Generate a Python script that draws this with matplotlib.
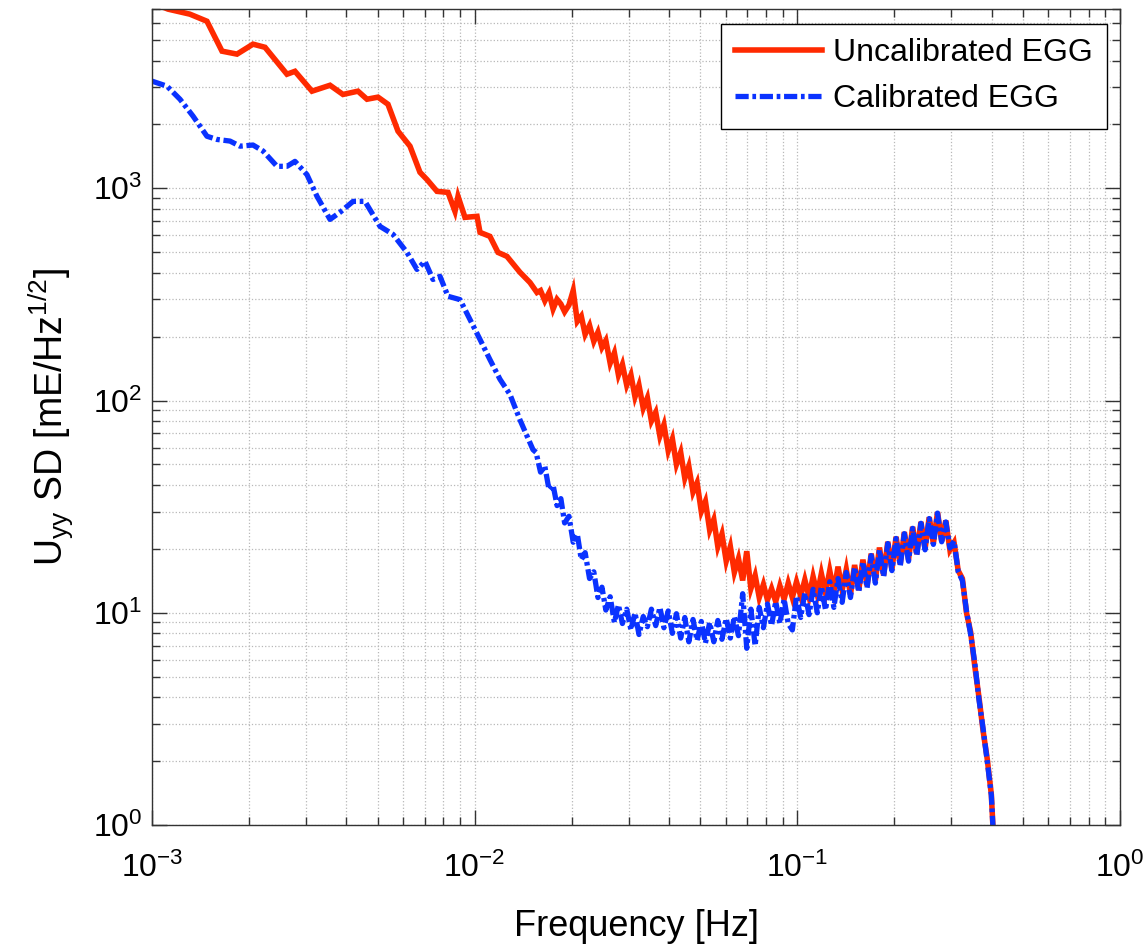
import matplotlib
matplotlib.use("Agg")
import matplotlib.pyplot as plt
from matplotlib.ticker import LogLocator, NullFormatter

# Uncalibrated EGG, smooth low-frequency part then the noisy tail
uncal_freq = [1.00e-3, 1.121e-3, 1.31e-3, 1.48e-3, 1.648e-3, 1.834e-3, 2.056e-3, 2.24e-3,
              2.62e-3, 2.774e-3, 3.132e-3, 3.562e-3, 3.907e-3, 4.348e-3, 4.638e-3, 5.016e-3,
              5.386e-3, 5.786e-3, 6.304e-3, 6.768e-3, 7.115e-3, 7.642e-3, 8.267e-3, 8.69e-3,
              8.879e-3, 9.331e-3, 1.017e-2, 1.039e-2, 1.115e-2, 1.181e-2, 1.259e-2, 1.382e-2,
              1.484e-2, 1.56e-2,
              0.0160, 0.0165, 0.0170, 0.0175, 0.0180, 0.0185, 0.0190, 0.0196, 0.0202, 0.0208,
              0.0214, 0.0220, 0.0227, 0.0234, 0.0241, 0.0248, 0.0255, 0.0263, 0.0271, 0.0279,
              0.0287, 0.0296, 0.0305, 0.0314, 0.0323, 0.0333, 0.0343, 0.0353, 0.0364, 0.0375,
              0.0386, 0.0398, 0.0410, 0.0422, 0.0435, 0.0448, 0.0461, 0.0475, 0.0489, 0.0504,
              0.0519, 0.0535, 0.0551, 0.0567, 0.0584, 0.0602, 0.0620, 0.0638, 0.0657, 0.0677,
              0.0697, 0.0718, 0.0740, 0.0762, 0.0785, 0.0808, 0.0832, 0.0857, 0.0883, 0.0910,
              0.0937, 0.0965, 0.0994, 0.1024, 0.1055, 0.1087, 0.1119, 0.1153, 0.1187, 0.1223,
              0.1260, 0.1298, 0.1337, 0.1377, 0.1418, 0.1461, 0.1505, 0.1550, 0.1597, 0.1645,
              0.1694, 0.1745, 0.1797, 0.1851, 0.1907, 0.1964, 0.2023, 0.2084, 0.2146, 0.2211,
              0.2277, 0.2345, 0.2416, 0.2488, 0.2563, 0.2640, 0.2719, 0.2801, 0.2885, 0.2971,
              0.3060, 0.3152, 0.3247, 0.3344, 0.3445, 0.3548, 0.3655, 0.3764, 0.3877, 0.3993,
              0.4050]
uncal_sd = [7500, 6990, 6620, 6130, 4430, 4290, 4780, 4620,
            3450, 3560, 2870, 3060, 2770, 2870, 2630, 2690,
            2490, 1860, 1580, 1190, 1100, 968, 957, 779,
            917, 730, 738, 620, 594, 499, 478, 402,
            360, 323,
            330, 295, 322, 270, 300, 285, 262, 282, 330, 236,
            250, 205, 226, 190, 210, 178, 192, 150, 168, 132,
            148, 118, 132, 104, 118, 92, 103, 80, 88, 68,
            77, 58, 66, 50, 57, 43, 49, 37, 41, 30,
            33.5, 24.5, 27.5, 20.5, 23.5, 17.5, 20.5, 15.5, 18.0, 14.2,
            19.5, 13.0, 15.0, 11.8, 13.6, 11.5, 13.0, 11.3, 13.4, 11.6,
            13.8, 11.8, 14.0, 12.0, 14.3, 11.9, 14.8, 12.2, 15.3, 12.4,
            15.8, 12.6, 16.5, 12.8, 16.0, 12.2, 16.8, 12.8, 17.8, 13.4,
            19.0, 14.2, 20.3, 15.0, 21.6, 16.0, 22.8, 16.9, 24.0, 17.8,
            25.4, 18.9, 26.8, 20.0, 28.2, 21.2, 29.8, 21.8, 27.2, 19.8,
            21.4, 15.8, 14.5, 10.0, 8.1, 5.6, 4.0, 2.78, 2.05, 1.39,
            0.9]

# Calibrated EGG
cal_freq = [1.00e-3, 1.113e-3, 1.221e-3, 1.340e-3, 1.480e-3, 1.590e-3, 1.745e-3, 1.874e-3,
            2.056e-3, 2.208e-3, 2.440e-3, 2.620e-3, 2.774e-3, 3.022e-3, 3.246e-3, 3.562e-3,
            3.824e-3, 4.198e-3, 4.571e-3, 5.088e-3, 5.583e-3, 6.169e-3, 6.624e-3, 7.015e-3,
            7.427e-3, 7.808e-3, 8.267e-3, 9.006e-3, 9.67e-3, 1.039e-2, 1.115e-2, 1.198e-2,
            1.286e-2, 1.382e-2, 1.516e-2,
            0.0155, 0.0160, 0.0165, 0.0170, 0.0175, 0.0180, 0.0185, 0.0190, 0.0196, 0.0202,
            0.0208, 0.0214, 0.0220, 0.0227, 0.0234, 0.0241, 0.0248, 0.0255, 0.0263, 0.0271,
            0.0279, 0.0287, 0.0296, 0.0305, 0.0314, 0.0323, 0.0333, 0.0343, 0.0353, 0.0364,
            0.0375, 0.0386, 0.0398, 0.0410, 0.0422, 0.0435, 0.0448, 0.0461, 0.0475, 0.0489,
            0.0504, 0.0519, 0.0535, 0.0551, 0.0567, 0.0584, 0.0602, 0.0620, 0.0638, 0.0657,
            0.0677, 0.0697, 0.0718, 0.0740, 0.0762, 0.0785, 0.0808, 0.0832, 0.0857, 0.0883,
            0.0910, 0.0937, 0.0965, 0.0994, 0.1024, 0.1055, 0.1087, 0.1119, 0.1153, 0.1187,
            0.1223, 0.1260, 0.1298, 0.1337, 0.1377, 0.1418, 0.1461, 0.1505, 0.1550, 0.1597,
            0.1645, 0.1694, 0.1745, 0.1797, 0.1851, 0.1907, 0.1964, 0.2023, 0.2084, 0.2146,
            0.2211, 0.2277, 0.2345, 0.2416, 0.2488, 0.2563, 0.2640, 0.2719, 0.2801, 0.2885,
            0.2971, 0.3060, 0.3152, 0.3247, 0.3344, 0.3445, 0.3548, 0.3655, 0.3764, 0.3877,
            0.3993, 0.4050]
cal_sd = [3200, 3030, 2630, 2190, 1760, 1700, 1670, 1580,
          1600, 1500, 1270, 1270, 1340, 1160, 917, 714,
          771, 868, 868, 662, 607, 499, 415, 453,
          372, 385, 310, 299, 241, 194, 156, 126,
          107, 81, 58.7,
          57, 46, 49, 38, 40, 32, 34.5, 26.5, 28.5, 21.5,
          23.5, 17.8, 19.2, 14.5, 15.6, 11.8, 13.2, 10.3, 11.9, 9.0,
          10.9, 8.9, 10.4, 8.3, 10.0, 7.9, 9.6, 8.6, 10.4, 8.7,
          10.6, 8.5, 10.2, 8.0, 9.9, 7.6, 9.5, 7.3, 9.3, 7.4,
          9.1, 7.2, 9.0, 7.3, 9.2, 7.5, 9.4, 7.6, 9.6, 7.8,
          12.3, 6.8, 10.4, 7.0, 10.6, 8.5, 11.0, 8.7, 11.3, 8.9,
          11.6, 8.9, 8.3, 12.0, 9.5, 12.4, 9.8, 12.9, 10.0, 13.3,
          10.3, 14.0, 10.6, 14.5, 11.2, 15.5, 11.8, 16.4, 12.5, 17.4,
          13.1, 18.6, 13.8, 19.8, 14.8, 21.2, 15.8, 22.4, 16.6, 23.6,
          17.5, 25.0, 18.6, 26.4, 19.8, 27.8, 21.0, 29.5, 21.6, 26.8,
          20.2, 21.8, 15.6, 14.2, 10.2, 7.9, 5.8, 3.9, 2.85, 2.0,
          1.38, 0.9]

series_labels = ["Uncalibrated EGG", "Calibrated EGG"]
x_limits = (1e-3, 1.0)
y_limits = (1.0, 7000)

plt.rcParams["font.family"] = ["Liberation Sans", "DejaVu Sans"]
plt.rcParams["mathtext.fontset"] = "custom"
plt.rcParams["mathtext.rm"] = "Liberation Sans"
plt.rcParams["mathtext.it"] = "Liberation Sans"
plt.rcParams["mathtext.default"] = "regular"
plt.rcParams["axes.unicode_minus"] = False

fig = plt.figure(figsize=(11.46, 9.52), dpi=100)
ax = fig.add_axes([152 / 1146, 127 / 952, 968 / 1146, 816 / 952])

ax.plot(uncal_freq, uncal_sd, color="#ff2a00", lw=4.0, ls="-",
        label=series_labels[0], solid_joinstyle="miter")
ax.plot(cal_freq, cal_sd, color="#0a32ff", lw=3.8, dashes=(2.5, 0.7, 0.7, 0.7),
        label=series_labels[1])

ax.set_xscale("log")
ax.set_yscale("log")
ax.set_xlim(*x_limits)
ax.set_ylim(*y_limits)

for axis in (ax.xaxis, ax.yaxis):
    axis.set_major_locator(LogLocator(base=10, numticks=10))
    axis.set_minor_locator(LogLocator(base=10, subs=range(2, 10), numticks=20))
    axis.set_minor_formatter(NullFormatter())

ax.grid(True, which="both", ls=":", color="#b8b8b8", lw=0.9)
ax.tick_params(which="both", direction="in", top=True, right=True,
               color="#333333", width=1.0, labelsize=23)
ax.tick_params(axis="x", pad=20)
ax.tick_params(axis="y", pad=7)
ax.tick_params(which="major", length=11)
ax.tick_params(which="minor", length=6)
for sp in ax.spines.values():
    sp.set_color("#333333")
    sp.set_linewidth(1.0)

ax.set_xlabel("Frequency [Hz]", fontsize=26, labelpad=18)
ax.set_ylabel("U$_{yy}$ SD [mE/Hz$^{1/2}$]", fontsize=27, labelpad=13)

leg = ax.legend(loc="upper right", bbox_to_anchor=(0.9866, 0.9816), borderaxespad=0,
                fontsize=23, fancybox=False, framealpha=1, edgecolor="black",
                handlelength=2.7, handletextpad=0.35, labelspacing=0.5, borderpad=0.45)
leg.get_frame().set_linewidth(1.0)

fig.savefig("out.png", dpi=100)
